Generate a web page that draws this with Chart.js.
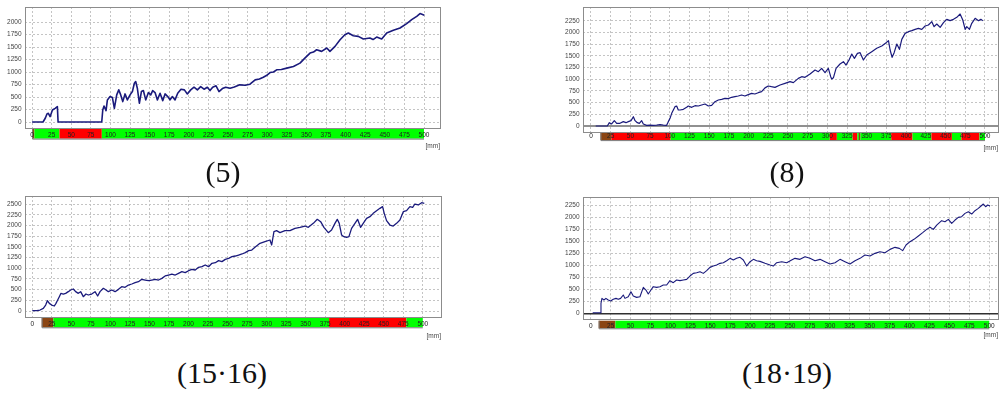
<!DOCTYPE html>
<html lang="en">
<head>
    <meta charset="UTF-8">
    <title>Running profiles</title>
    <script src="https://cdn.jsdelivr.net/npm/chart.js"></script>
    <style>
        body {
            margin: 0;
            background: #fff;
            width: 1006px;
            height: 396px;
            overflow: hidden;
            position: relative;
        }

        .panel {
            position: absolute;
        }

        .panel canvas {
            display: block;
        }

        .caption {
            position: absolute;
            width: 200px;
            text-align: center;
            font-family: 'Liberation Serif', serif;
            font-size: 30px;
            line-height: 30px;
            color: #111;
        }
    </style>
</head>
<body>
    <div class="panel" style="left:0px; top:0px"><canvas id="c5" width="460" height="160"></canvas></div>
    <div class="panel" style="left:558px; top:0px"><canvas id="c8" width="448" height="160"></canvas></div>
    <div class="panel" style="left:0px; top:190px"><canvas id="c15" width="460" height="160"></canvas></div>
    <div class="panel" style="left:558px; top:190px"><canvas id="c18" width="448" height="160"></canvas></div>

    <div class="caption" style="left:123px; top:157px">(5)</div>
    <div class="caption" style="left:687px; top:157px">(8)</div>
    <div class="caption" style="left:122px; top:358px">(15·16)</div>
    <div class="caption" style="left:687px; top:358px">(18·19)</div>

    <script>
        // tick labels
        const xTicks = [0, 25, 50, 75, 100, 125, 150, 175, 200, 225, 250, 275, 300, 325, 350, 375, 400, 425, 450, 475, 500];
        const yTicks5 = [0, 250, 500, 750, 1000, 1250, 1500, 1750, 2000];
        const yTicks8 = [0, 250, 500, 750, 1000, 1250, 1500, 1750, 2000, 2250];
        const yTicks15 = [0, 250, 500, 750, 1000, 1250, 1500, 1750, 2000, 2250, 2500];
        const yTicks18 = [0, 250, 500, 750, 1000, 1250, 1500, 1750, 2000, 2250];
        const xUnit = '[mm]';

        // series: [distance, value]
        const run5 = [[0,0],[14,0],[17,80],[19,160],[20.8,174],[23,107],[26,241],[29.4,274],[32.3,308],[33.2,0],
            [88.9,0],[90.2,241],[91.8,321],[94.4,228],[96.1,442],[99.5,509],[102.5,489],[105,274],[108,542],[110.6,643],
            [113.1,542],[115.7,408],[118.6,562],[121.6,442],[125,542],[128,609],[130.5,776],[132.2,810],[134.3,676],[136.9,375],
            [139.5,609],[142,629],[145,442],[148.4,589],[151.4,542],[153.9,629],[156.9,589],[159.9,442],[163.3,576],[166.7,428],
            [169.7,562],[173.1,509],[176,442],[179,509],[182.4,442],[185.8,576],[190,656],[194.3,643],[198.1,562],[202.4,643],
            [206.6,696],[210.9,643],[215.1,709],[219.4,656],[223.6,696],[227,629],[230.4,696],[234.7,723],[238.5,609],[242.8,669],
            [247,696],[252.6,676],[258,700],[265,743],[272,735],[278,756],[284.6,843],[290,860],[295,897],[299,930],[303.6,990],
            [308,1000],[312,1044],[318,1050],[325,1078],[333.4,1111],[341.8,1178],[348,1279],[354.6,1379],[359,1400],[363,1446],
            [369.4,1413],[376,1480],[380,1413],[386.5,1513],[392.9,1647],[399,1747],[403.5,1781],[409.8,1727],[416.2,1714],[422.6,1660],
            [431,1680],[435,1650],[439.6,1700],[446,1660],[452.4,1781],[460.9,1834],[469.4,1880],[477.9,1968],[484.3,2048],[490.7,2115],
            [494.9,2169],[500.4,2136]];

        const run8 = [[6,0],[20.7,0],[23.3,71],[26.2,43],[29.6,114],[32.6,57],[36.8,57],[41,93],[44.4,71],[47.4,93],
            [50.8,114],[53.8,199],[55.9,114],[58.8,71],[61.3,57],[64.3,114],[66.4,43],[70.6,14],[74.9,20],[79.1,14],
            [83.3,20],[87.6,28],[91.8,20],[96,14],[98.1,93],[100.3,164],[102.4,271],[104.5,342],[106.6,413],[108.7,427],
            [110.8,342],[113,342],[117.2,356],[121.4,399],[123.5,427],[127.8,399],[132,434],[136.2,427],[140.4,449],[144.7,470],
            [148.9,427],[153.1,441],[157.3,520],[161.6,556],[165.8,570],[170,591],[174.2,584],[178.4,613],[182.7,627],[186.9,641],
            [191.1,662],[195.3,641],[199.6,670],[203.8,698],[208,684],[212.2,712],[216.5,734],[220.8,815],[224.9,855],[229,840],
            [233.5,826],[239.9,876],[246.2,912],[252.6,947],[256.8,926],[263.1,1018],[267.4,1054],[271.6,1040],[278,1111],[284.3,1197],
            [288.5,1161],[292.7,1232],[297,1140],[301.2,1232],[304.2,1054],[305.5,1004],[307.6,1030],[311,1232],[316,1325],[320.3,1375],
            [323.7,1303],[327.9,1424],[330.9,1538],[334.3,1446],[338.1,1553],[341.5,1567],[345.7,1410],[349.9,1517],[356.3,1588],[362.6,1660],
            [369,1709],[374.5,1781],[377.5,1823],[379.6,1624],[382.1,1467],[384.7,1567],[388.1,1752],[391.4,1638],[394.4,1852],[398.6,1980],
            [402.8,2016],[407.1,2037],[411.3,2066],[415.5,2087],[419.8,2066],[424,2137],[428.2,2158],[432.5,2229],[435.4,2123],[438.8,2179],
            [443.1,2108],[447.3,2208],[451.5,2279],[455.7,2251],[460,2279],[464.2,2322],[468.4,2393],[471.8,2265],[474.8,2066],[476.9,2123],
            [480.3,2066],[483.2,2194],[487.5,2301],[491.7,2251],[494.7,2279],[497.2,2251]];

        const run15 = [[0,8],[5.6,8],[9.9,23],[14.1,62],[17.1,140],[19.3,241],[21.8,179],[24.8,140],[28.2,117],[30.3,179],
            [32.5,257],[34.6,335],[36.7,413],[39.7,397],[42.7,413],[46.1,452],[49.1,491],[52.5,514],[55.5,452],[58.9,413],
            [61.9,452],[65.3,335],[68.7,397],[71.7,374],[76,397],[80.3,452],[83.7,350],[86.7,452],[91,530],[94.4,491],
            [97.4,452],[101.7,491],[106,452],[110.3,506],[114.5,569],[118.8,553],[123.1,607],[127.4,631],[131.6,662],[135.9,685],
            [140.2,740],[144.5,724],[148.8,709],[153,724],[157.3,740],[161.6,724],[165.9,763],[170.1,818],[174.4,841],[178.7,864],
            [183,841],[187.2,880],[191.5,919],[195.8,896],[200.1,942],[204.3,974],[208.6,958],[212.9,1020],[217.2,1036],[221.4,1075],
            [225.7,1036],[230,1114],[234.3,1129],[238.5,1176],[242.8,1153],[247.1,1207],[251.4,1231],[255.6,1269],[259.9,1285],[264.2,1308],
            [268.5,1332],[272.7,1363],[277,1410],[281,1425],[285.1,1488],[291.5,1581],[297.9,1620],[304.3,1659],[306.5,1542],[309.4,1854],
            [312.8,1877],[317.1,1830],[323.5,1877],[329.9,1877],[336.3,1931],[342.7,1955],[349.1,1986],[353.4,1955],[359.8,2048],[364.9,2142],
            [369.2,2087],[373.4,1955],[379,1830],[383.2,1893],[387.5,2048],[390.5,2142],[393,2048],[396,1776],[399,1737],[402.4,1721],
            [405.4,1737],[408.8,1931],[413.1,2048],[416.5,2142],[420.3,1955],[423.7,2048],[428,2165],[432.3,2204],[436.5,2282],[440.8,2344],
            [445.1,2399],[448.5,2438],[450.6,2282],[453.6,2111],[457.9,2009],[462.1,1986],[466.4,2048],[470.7,2126],[475,2321],[479.2,2344],
            [483.5,2438],[487,2422],[489.9,2500],[494.2,2477],[498.5,2531],[501.9,2516]];

        const run18 = [[2.5,21],[11.7,21],[12.9,215],[14.1,319],[16.6,285],[19.1,319],[22,285],[25,264],[28.3,299],[31.7,319],
            [34.6,299],[37.5,319],[40.9,389],[43,319],[47.1,354],[50.5,458],[53.4,368],[57.6,340],[61.8,354],[66,549],
            [69.3,493],[72.2,410],[75.6,493],[78.5,563],[82.7,549],[86.9,563],[91.1,597],[95.3,597],[99.4,688],[103.6,646],
            [107.8,701],[112,688],[116.2,701],[120.4,715],[124.5,785],[128.7,840],[132.9,854],[137.1,875],[141.3,840],[145.5,896],
            [149.6,965],[153.8,993],[158,1014],[162.2,1049],[166.4,1063],[170.6,1104],[174.8,1153],[178.9,1118],[183.1,1153],[187.3,1174],
            [191.5,1118],[195.7,993],[199.9,1083],[204.1,1132],[208.2,1104],[212.4,1090],[218.7,1049],[225,1014],[229.1,993],[233.3,1063],
            [239.6,1083],[245.9,1063],[252.1,1118],[256.3,1153],[262.6,1132],[268.9,1188],[275.1,1153],[281.4,1104],[287.7,1132],[294,1083],
            [300.2,1035],[306.5,1063],[312.8,1132],[319,1083],[325.3,1035],[331.6,1104],[337.9,1153],[344.1,1222],[350.4,1201],[356.7,1257],
            [362.9,1292],[369.2,1271],[375.5,1340],[381.8,1382],[387.2,1361],[391.4,1313],[395.6,1431],[400.6,1500],[405.6,1549],[411.1,1618],
            [416.5,1688],[421.5,1757],[425.7,1799],[429.9,1757],[434.1,1847],[440.3,1938],[444.5,1917],[448.7,1965],[452.9,1882],[457.1,1951],
            [461.2,2007],[465.4,2021],[469.6,2090],[473.8,2125],[478,2076],[482.1,2146],[486.3,2194],[489.7,2243],[492.6,2285],[495.5,2229],
            [498,2264],[501,2243]];

        // band under each plot: [from, to, state]  G = green, R = red, B = brown
        const band5 = [[0, 3, 'B'], [3, 35, 'G'], [35, 89, 'R'], [89, 500, 'G']];
        const band8 = [[12, 26, 'B'], [26, 101, 'R'], [101, 303, 'G'], [303, 312, 'R'], [312, 332, 'G'], [332, 338, 'R'],
            [338, 340, 'G'], [340, 342, 'B'], [342, 381, 'G'], [381, 408, 'R'], [408, 432, 'G'], [432, 458, 'R'],
            [458, 470, 'G'], [470, 493, 'R'], [493, 500, 'G']];
        const band15 = [[12, 27, 'B'], [27, 380, 'G'], [380, 479, 'R'], [479, 500, 'G']];
        const band18 = [[10, 31, 'B'], [31, 500, 'G']];

        const bandColors = { G: '#00ff00', R: '#ff0000', B: '#8b4513' };

        const panels = [
            { id: 'c5', run: run5, band: band5, yTicks: yTicks5, xMin: -9, xMax: 520.4, yMin: -120, yMax: 2301,
              pad: { top: 7, right: 20, bottom: 10.1, left: 0 }, xAxisH: 21.9, tickPad: 3.4, bandGap: 0.8, bandH: 9.8, lineW: 1.6, zero: null },
            { id: 'c8', run: run8, band: band8, yTicks: yTicks8, xMin: -10.15, xMax: 516.5, yMin: -117.5, yMax: 2543,
              pad: { top: 7, right: 8, bottom: 7.6, left: 0 }, xAxisH: 20.9, tickPad: 0.9, bandGap: 0.6, bandH: 8, lineW: 1.2, zero: { color: '#909090', width: 2 } },
            { id: 'c15', run: run15, band: band15, yTicks: yTicks15, xMin: -9.35, xMax: 523.3, yMin: -147, yMax: 2687,
              pad: { top: 6, right: 19, bottom: 10.1, left: 0 }, xAxisH: 22.6, tickPad: 3.5, bandGap: 0.4, bandH: 9.6, lineW: 1.3, zero: null },
            { id: 'c18', run: run18, band: band18, yTicks: yTicks18, xMin: -9.66, xMax: 511, yMin: -117, yMax: 2425,
              pad: { top: 7.3, right: 8, bottom: 10.6, left: 0 }, xAxisH: 20.1, tickPad: 2.8, bandGap: 1.4, bandH: 7.6, lineW: 1.1, zero: { color: '#303030', width: 1.5 } }
        ];

        // band, zero line and frame around the plot
        const panelDecor = {
            id: 'panelDecor',
            beforeDraw(chart, args, opts) {
                const ctx = chart.ctx, xs = chart.scales.x, area = chart.chartArea;
                const top = area.bottom + opts.bandGap;
                ctx.save();
                opts.band.forEach(function(seg) {
                    const x1 = xs.getPixelForValue(seg[0]);
                    const x2 = xs.getPixelForValue(seg[1]);
                    ctx.fillStyle = bandColors[seg[2]];
                    ctx.fillRect(x1, top, x2 - x1, opts.bandH);
                });
                const left = xs.getPixelForValue(opts.band[0][0]);
                const right = xs.getPixelForValue(opts.band[opts.band.length - 1][1]);
                ctx.strokeStyle = '#7a7a7a';
                ctx.lineWidth = 1;
                ctx.beginPath();
                ctx.moveTo(left + 0.5, top);
                ctx.lineTo(left + 0.5, top + opts.bandH + 0.5);
                ctx.lineTo(right, top + opts.bandH + 0.5);
                ctx.stroke();
                ctx.restore();
            },
            beforeDatasetsDraw(chart, args, opts) {
                if (!opts.zero) return;
                const ctx = chart.ctx, area = chart.chartArea;
                const y = chart.scales.y.getPixelForValue(0);
                ctx.save();
                ctx.strokeStyle = opts.zero.color;
                ctx.lineWidth = opts.zero.width;
                ctx.beginPath();
                ctx.moveTo(area.left, y);
                ctx.lineTo(area.right, y);
                ctx.stroke();
                ctx.restore();
            },
            afterDatasetsDraw(chart) {
                const ctx = chart.ctx, a = chart.chartArea;
                ctx.save();
                ctx.strokeStyle = '#8c8c8c';
                ctx.lineWidth = 1;
                ctx.strokeRect(Math.round(a.left) + 0.5, Math.round(a.top) + 0.5,
                    Math.round(a.right - a.left), Math.round(a.bottom - a.top));
                ctx.restore();
            }
        };

        const axisFont = { family: "'Liberation Sans', Arial, sans-serif", size: 6.5 };

        function drawPanel(p) {
            const ctx = document.getElementById(p.id).getContext('2d');
            return new Chart(ctx, {
                type: 'line',
                data: {
                    datasets: [{
                        data: p.run.map(function(d) { return { x: d[0], y: d[1] }; }),
                        borderColor: '#1a1a7c',
                        borderWidth: p.lineW,
                        pointRadius: 0,
                        tension: 0,
                        borderJoinStyle: 'round',
                        fill: false
                    }]
                },
                plugins: [panelDecor],
                options: {
                    responsive: false,
                    animation: false,
                    events: [],
                    layout: { padding: p.pad },
                    plugins: {
                        legend: { display: false },
                        tooltip: { enabled: false },
                        panelDecor: { band: p.band, bandGap: p.bandGap, bandH: p.bandH, zero: p.zero }
                    },
                    scales: {
                        x: {
                            type: 'linear',
                            min: p.xMin,
                            max: p.xMax,
                            afterBuildTicks: function(s) { s.ticks = xTicks.map(function(v) { return { value: v }; }); },
                            afterFit: function(s) { s.height = p.xAxisH; s.paddingLeft = 0; s.paddingRight = 0; },
                            ticks: {
                                autoSkip: false,
                                maxRotation: 0,
                                padding: p.tickPad,
                                font: axisFont,
                                color: '#222',
                                callback: function(v) { return String(v); }
                            },
                            grid: { color: '#c4c4c4', lineWidth: 1, drawTicks: false },
                            border: { display: false, dash: [2, 2] },
                            title: {
                                display: true,
                                text: xUnit,
                                align: 'end',
                                padding: 0,
                                font: axisFont,
                                color: '#444'
                            }
                        },
                        y: {
                            min: p.yMin,
                            max: p.yMax,
                            afterBuildTicks: function(s) { s.ticks = p.yTicks.map(function(v) { return { value: v }; }); },
                            afterFit: function(s) { s.width = 25; s.paddingTop = 0; s.paddingBottom = 0; },
                            ticks: {
                                padding: 3.5,
                                font: axisFont,
                                color: '#444',
                                callback: function(v) { return String(v); }
                            },
                            grid: { color: '#c4c4c4', lineWidth: 1, drawTicks: false },
                            border: { display: false, dash: [2, 2] }
                        }
                    }
                }
            });
        }

        panels.forEach(drawPanel);
    </script>
</body>
</html>
